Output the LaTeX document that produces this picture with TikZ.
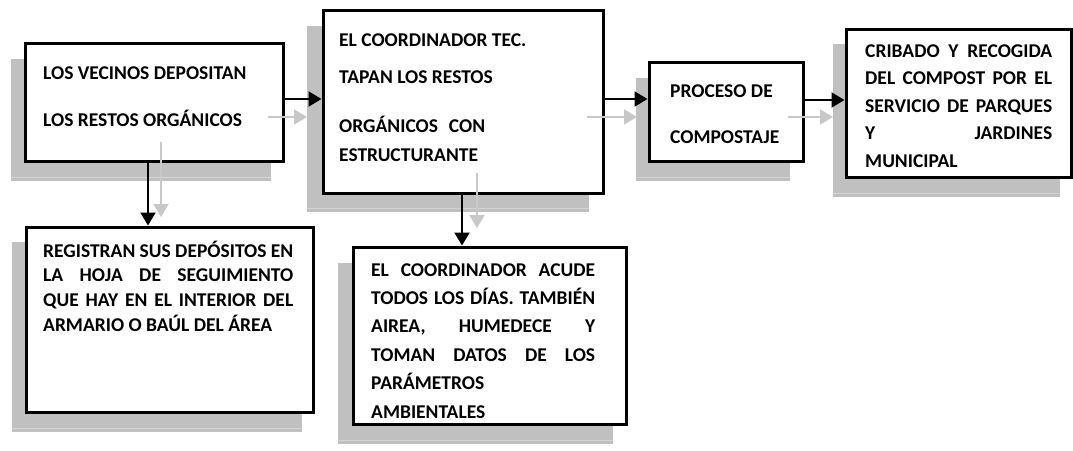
\documentclass[tikz,border=0pt]{standalone}
\usepackage{fontspec}
\setmainfont{Carlito}
\usetikzlibrary{arrows.meta}
\definecolor{shadowgray}{HTML}{C0C0C0}
\definecolor{shadowline}{HTML}{D4D4D4}
\definecolor{ghost}{HTML}{C8C8C8}
\newcommand{\J}[2]{\hbox{\makebox[#1pt][s]{#2}}}
\newcommand{\N}[1]{\hbox{#1}}
\begin{document}
\begin{tikzpicture}[x=1pt,y=-1pt,
  box/.style={draw=black,fill=white,line width=3pt,rectangle,inner sep=0pt},
  txt/.style={anchor=base west,inner sep=0pt,font=\fontsize{19.5}{23}\selectfont\bfseries},
  shadowbox/.style={fill=shadowgray},
  arr/.style={line width=2pt,draw=black,-{Triangle[length=13pt,width=15pt]}},
  garr/.style={line width=2pt,draw=ghost,-{Triangle[length=13pt,width=15pt]}}]
\useasboundingbox (0,0) rectangle (1073,450);
\fill[white] (0,0) rectangle (1073,450);
% shadows
\fill[shadowbox] (11,59) rectangle (271,181);
\fill[shadowbox] (12,242) rectangle (302,432);
\fill[shadowbox] (307,26) rectangle (589,212);
\fill[shadowbox] (338,263) rectangle (613,444);
\fill[shadowbox] (636,78) rectangle (790,181);
\fill[shadowbox] (833,44) rectangle (1060,197);
\draw[shadowline,line width=0.8pt] (11,177) -- (271,177);
\draw[shadowline,line width=0.8pt] (12,428) -- (302,428);
\draw[shadowline,line width=0.8pt] (307,208) -- (589,208);
\draw[shadowline,line width=0.8pt] (338,440) -- (613,440);
\draw[shadowline,line width=0.8pt] (636,177) -- (790,177);
\draw[shadowline,line width=0.8pt] (833,193) -- (1060,193);
% boxes
\node[box,minimum width=258pt,minimum height=118pt] (b1) at (154,102) {};
\node[box,minimum width=280pt,minimum height=183pt] (b2) at (463,101.5) {};
\node[box,minimum width=154pt,minimum height=99pt] (b3) at (726,111.5) {};
\node[box,minimum width=287pt,minimum height=185pt] (b4) at (169.5,319.5) {};
\node[box,minimum width=273pt,minimum height=177pt] (b5) at (489.5,335.5) {};
\node[box,minimum width=225pt,minimum height=148pt] (b6) at (958.5,103) {};
% texts
\node[txt] (t1) at (43,79) {\vtop{\baselineskip=47pt
  \N{LOS VECINOS DEPOSITAN}\N{LOS RESTOS ORGÁNICOS}}};
\node[txt] (t2) at (339,46) {\vtop{\baselineskip=37pt
  \N{EL COORDINADOR TEC.}\N{TAPAN LOS RESTOS}\vskip12pt
  \J{146}{ORGÁNICOS CON}\vskip-8pt\N{ESTRUCTURANTE}}};
\node[txt] (t3) at (670,97) {\vtop{\baselineskip=46pt
  \N{PROCESO DE}\N{COMPOSTAJE}}};
\node[txt] (t4) at (43,257) {\vtop{\baselineskip=24.7pt
  \J{250}{REGISTRAN SUS DEPÓSITOS EN}\J{250}{LA HOJA DE SEGUIMIENTO}
  \J{250}{QUE HAY EN EL INTERIOR DEL}\N{ARMARIO O BAÚL DEL ÁREA}}};
\node[txt] (t5) at (371,276) {\vtop{\baselineskip=28.4pt
  \J{224}{EL COORDINADOR ACUDE}\J{224}{TODOS LOS DÍAS. TAMBIÉN}
  \J{224}{AIREA, HUMEDECE Y}\J{224}{TOMAN DATOS DE LOS}
  \N{PARÁMETROS}\N{AMBIENTALES}}};
\node[txt] (t6) at (865,57) {\vtop{\baselineskip=27.5pt
  \J{187}{CRIBADO Y RECOGIDA}\J{187}{DEL COMPOST POR EL}
  \J{187}{SERVICIO DE PARQUES}\J{187}{Y JARDINES}\N{MUNICIPAL}}};
% black connectors
\draw[arr] (b1.east |- 0,99) -- (b2.west |- 0,99);
\draw[arr] (b2.east |- 0,99) -- (b3.west |- 0,99);
\draw[arr] (b3.east |- 0,100) -- (b6.west |- 0,100);
\draw[arr] ([xshift=-6pt]b1.south) -- ([xshift=-6pt]b1.south |- b4.north);
\draw[arr] ([xshift=-1pt]b2.south) -- ([xshift=-1pt]b2.south |- b5.north);
% grey connectors
\coordinate (g1s) at (268,117); \coordinate (g1e) at (307,117);
\coordinate (g2s) at (161,142); \coordinate (g2e) at (161,217);
\coordinate (g3s) at (587,117); \coordinate (g3e) at (637,117);
\coordinate (g4s) at (477,173); \coordinate (g4e) at (477,228);
\coordinate (g5s) at (788,117); \coordinate (g5e) at (833,117);
\draw[garr] (g1s) -- (g1e);
\draw[garr] (g2s) -- (g2e);
\draw[garr] (g3s) -- (g3e);
\draw[garr] (g4s) -- (g4e);
\draw[garr] (g5s) -- (g5e);
\end{tikzpicture}
\end{document}
